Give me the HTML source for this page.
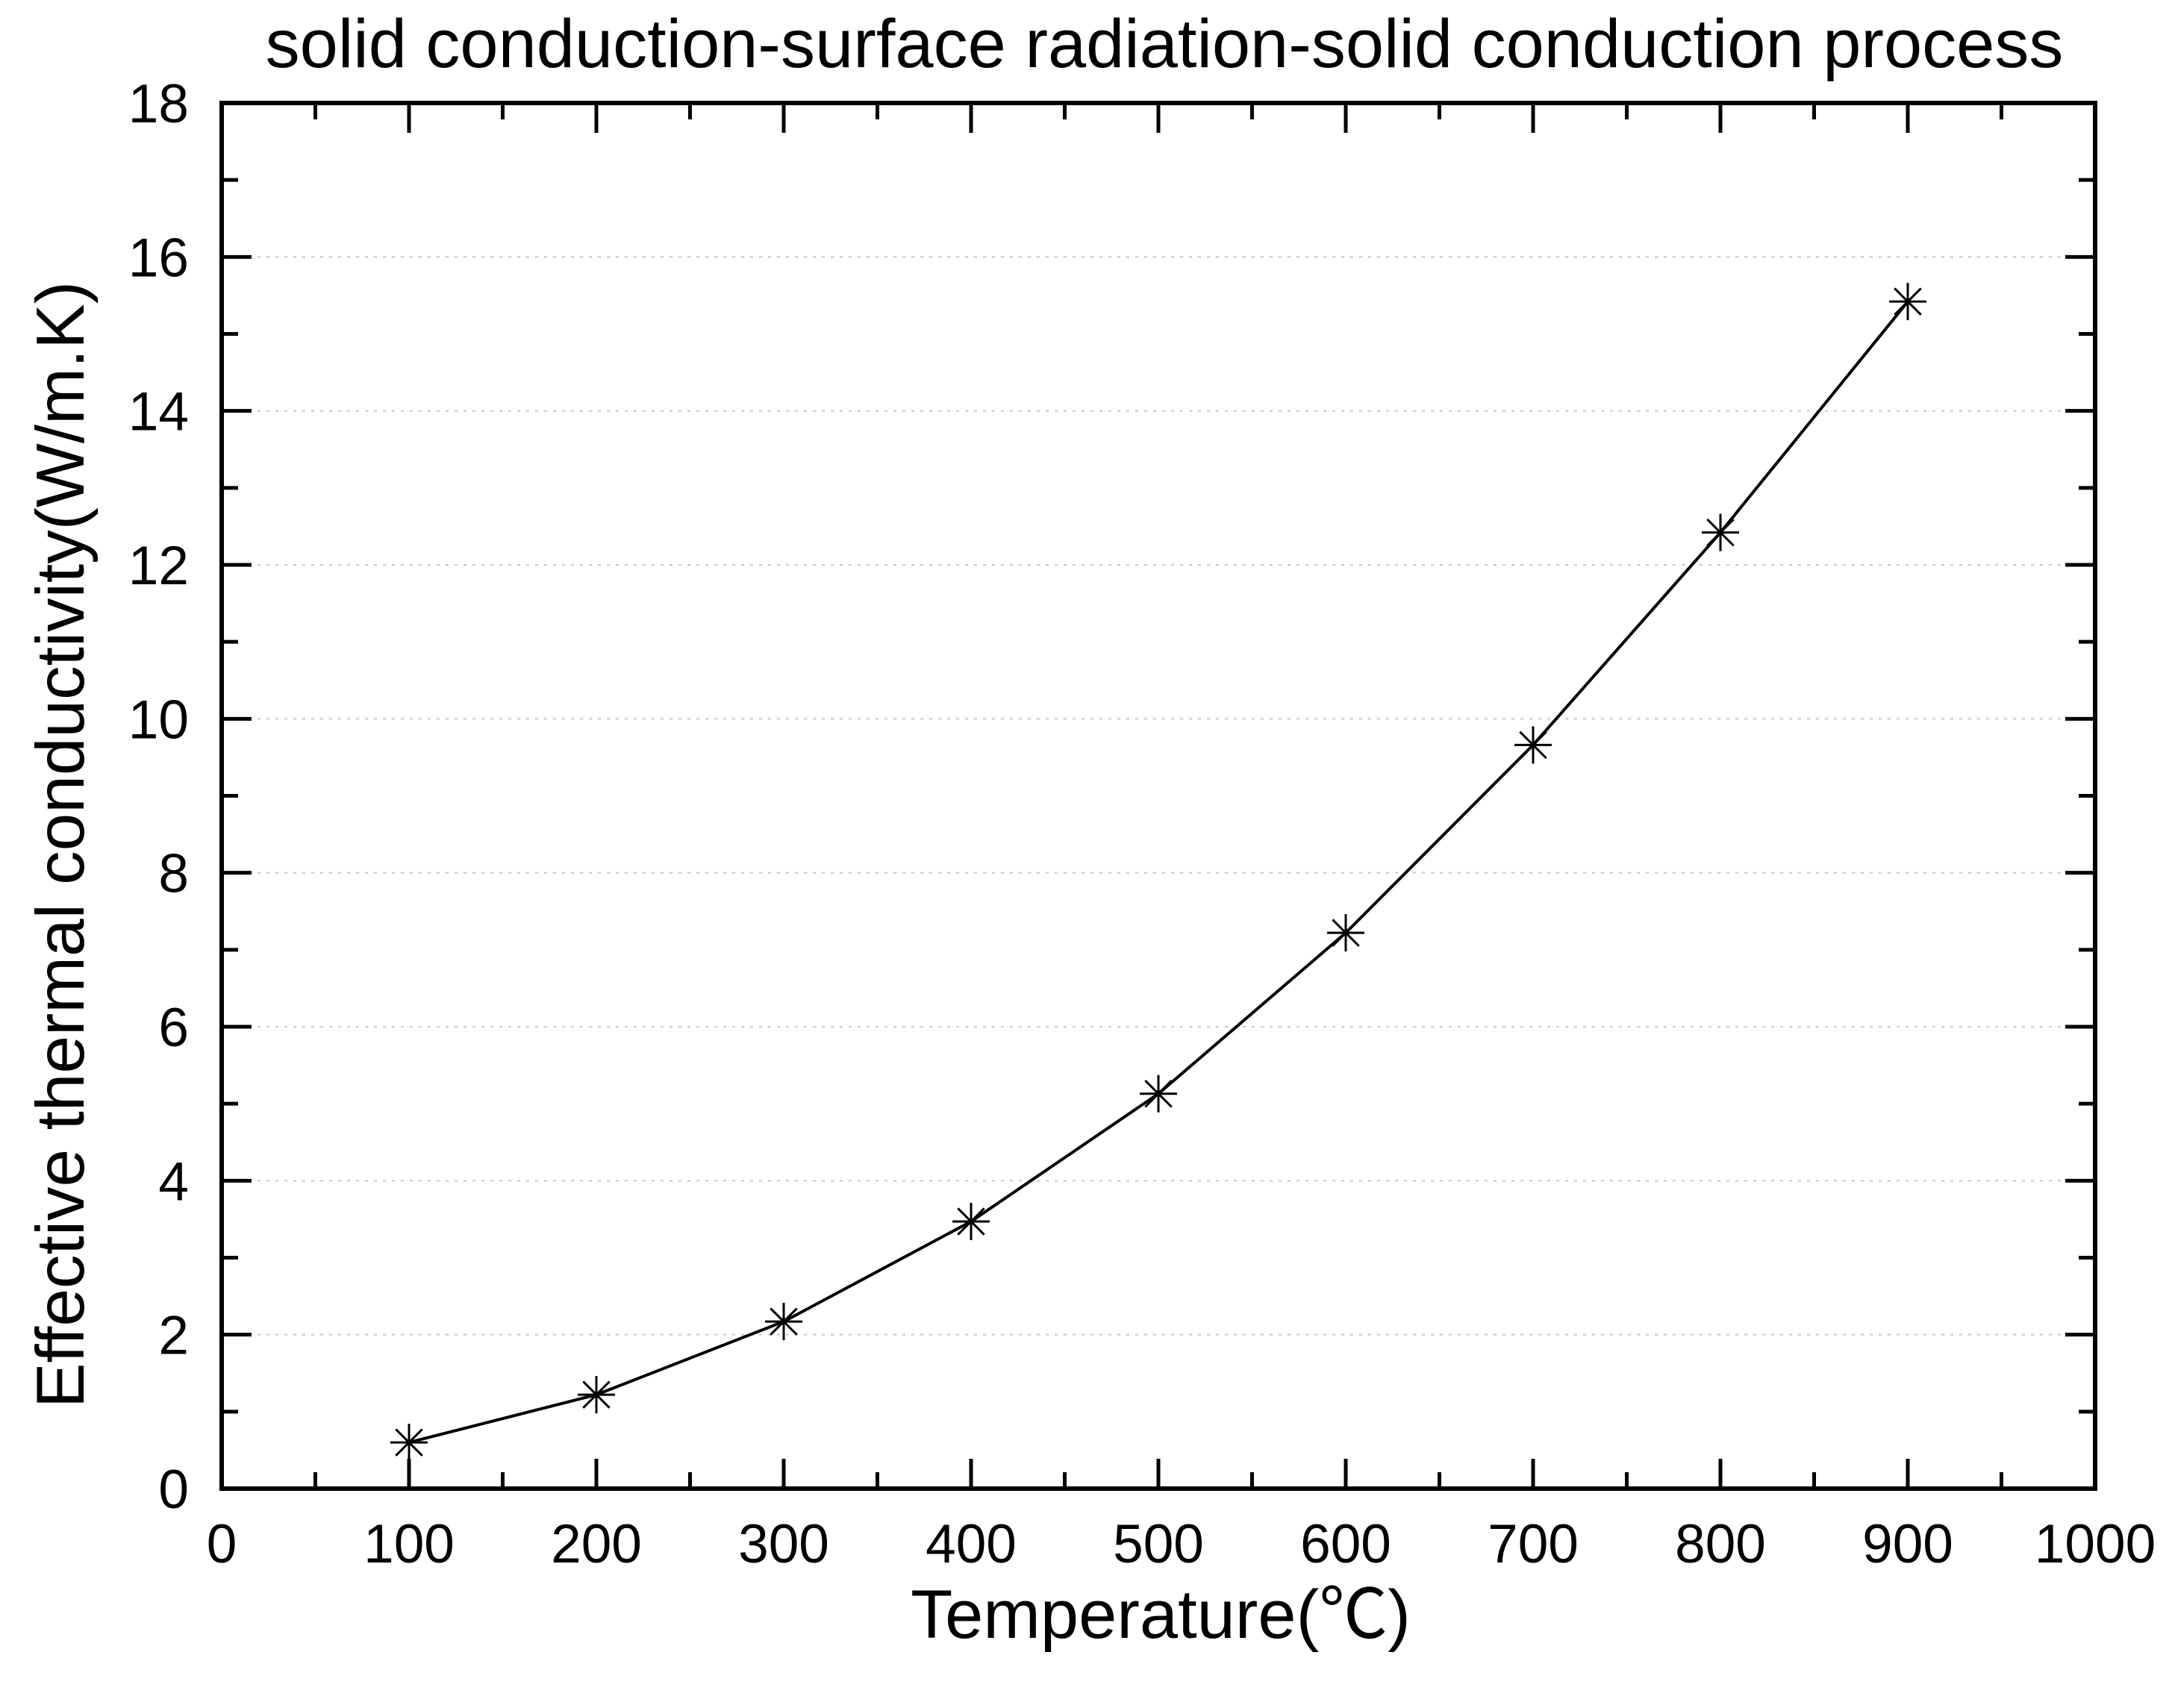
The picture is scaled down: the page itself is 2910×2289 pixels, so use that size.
<!DOCTYPE html>
<html><head><meta charset="utf-8"><style>
html,body{margin:0;padding:0;background:#fff;}
svg{display:block;font-family:"Liberation Sans","Noto Sans CJK SC",sans-serif;}
</style></head><body>
<svg id="chart" width="2910" height="2289" viewBox="0 0 2910 2289" xmlns="http://www.w3.org/2000/svg">
<text x="1560" y="90" font-size="92" text-anchor="middle">solid conduction-surface radiation-solid conduction process</text>
<g id="grid"></g>
<g id="ticks"></g>
<g id="series"></g>
<rect x="297" y="138" width="2510" height="1857" fill="none" stroke="#000" stroke-width="6"/>
<text x="1555" y="2195" font-size="92" text-anchor="middle">Temperature(℃)</text>
<text transform="translate(112,1132) rotate(-90)" font-size="91" text-anchor="middle">Effective thermal conductivity(W/m.K)</text>
</svg>
<script>
const xTicks = [0,100,200,300,400,500,600,700,800,900,1000];
const yTicks = [0,2,4,6,8,10,12,14,16,18];
const temps = [100,200,300,400,500,600,700,800,900];
const conductivity = [0.6,1.22,2.17,3.47,5.13,7.22,9.66,12.42,15.42];
const L=297,R=2807,T=138,B=1995;
const xs=v=>L+(v-0)/(1000-0)*(R-L);
const ys=v=>B-(v-0)/(18-0)*(B-T);
const NS='http://www.w3.org/2000/svg';
function mk(tag,attrs,parent){const e=document.createElementNS(NS,tag);for(const k in attrs)e.setAttribute(k,attrs[k]);parent.appendChild(e);return e;}
const grid=document.getElementById('grid'),ticks=document.getElementById('ticks'),series=document.getElementById('series');
yTicks.forEach(v=>{
  const y=ys(v);
  if(v>0&&v<18){const g=mk('line',{x1:L,x2:R,y1:y,y2:y,stroke:'#c8c8c8','stroke-width':2,'stroke-dasharray':'4 8'},grid);
  
  }
  [[L,L+40],[R,R-40]].forEach(p=>{const t=mk('line',{x1:p[0],x2:p[1],y1:y,y2:y,stroke:'#000','stroke-width':5},ticks);
  
  });
  if(v<18){const ym=ys(v+1);[[L,L+22],[R,R-22]].forEach(p=>{const t=mk('line',{x1:p[0],x2:p[1],y1:ym,y2:ym,stroke:'#000','stroke-width':5},ticks);
  
  });}
  const lb=mk('text',{x:253,y:y+26,'font-size':73,'text-anchor':'end'},ticks);lb.textContent=v;
  
  
});
xTicks.forEach(v=>{
  const x=xs(v);
  [[B,B-40],[T,T+40]].forEach(p=>{const t=mk('line',{x1:x,x2:x,y1:p[0],y2:p[1],stroke:'#000','stroke-width':5},ticks);
  
  });
  if(v<1000){const xm=xs(v+50);[[B,B-22],[T,T+22]].forEach(p=>{const t=mk('line',{x1:xm,x2:xm,y1:p[0],y2:p[1],stroke:'#000','stroke-width':5},ticks);
  
  });}
  const lb=mk('text',{x:x,y:2094,'font-size':73,'text-anchor':'middle'},ticks);lb.textContent=v;
  
  
});
const pts=temps.map((t,i)=>[xs(t),ys(conductivity[i])]);
const line=mk('polyline',{points:pts.map(p=>p.join(',')).join(' '),fill:'none',stroke:'#000','stroke-width':4,'stroke-linejoin':'round'},series);


pts.forEach(p=>{
  const r=25,d=r*0.707;
  const m=mk('path',{d:`M${p[0]-r},${p[1]}h${2*r}M${p[0]},${p[1]-r}v${2*r}M${p[0]-d},${p[1]-d}l${2*d},${2*d}M${p[0]-d},${p[1]+d}l${2*d},${-2*d}`,stroke:'#000','stroke-width':3,fill:'none'},series);
  
  
});
</script>
</body></html>
